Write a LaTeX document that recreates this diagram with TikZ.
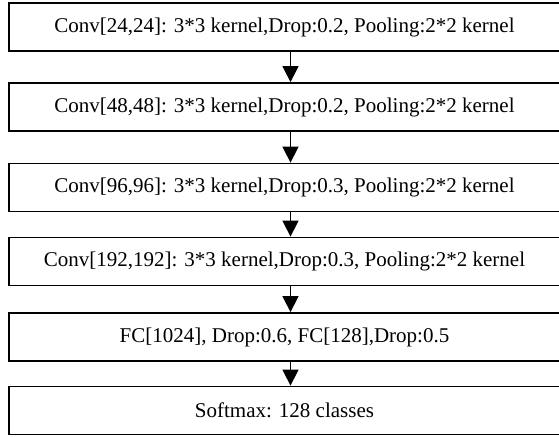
\documentclass[tikz,border=0pt]{standalone}
\usepackage{fontspec}
\setmainfont{Liberation Serif}
\usetikzlibrary{arrows.meta}
\tikzset{layer/.style={draw,line width=0.9pt,minimum width=275.5pt,minimum height=24pt,inner sep=0pt,font=\fontsize{10.5}{12}\selectfont}}
\begin{document}
\begin{tikzpicture}[x=0.5pt,y=-0.5pt]
\useasboundingbox (0,0) rectangle (559,436);
\node[layer] (l1) at (284.5,27) {Conv[24,24]: 3*3 kernel,Drop:0.2, Pooling:2*2 kernel};
\node[layer] (l2) at (284.5,107) {Conv[48,48]: 3*3 kernel,Drop:0.2, Pooling:2*2 kernel};
\node[layer] (l3) at (284.5,187.5) {Conv[96,96]: 3*3 kernel,Drop:0.3, Pooling:2*2 kernel};
\node[layer] (l4) at (284.5,261.5) {Conv[192,192]: 3*3 kernel,Drop:0.3, Pooling:2*2 kernel};
\node[layer] (l5) at (284.5,337) {FC[1024], Drop:0.6, FC[128],Drop:0.5};
\node[layer] (l6) at (284.5,410.5) {Softmax: 128 classes};
\foreach \x/\y in {1/2,2/3,3/4,4/5,5/6}
	\draw[line width=0.75pt,-{Triangle[width=8pt,length=8pt]}] ([xshift=3pt]l\x.south) -- ([xshift=3pt]l\y.north);
\end{tikzpicture}
\end{document}
